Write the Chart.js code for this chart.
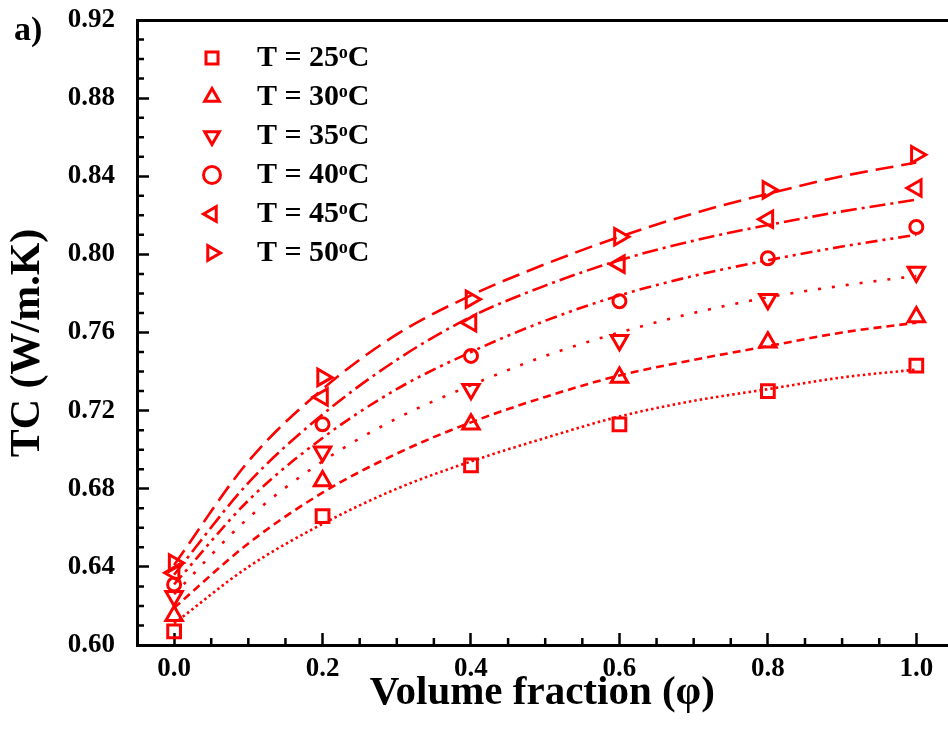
<!DOCTYPE html>
<html>
<head>
<meta charset="utf-8">
<script src="https://cdn.jsdelivr.net/npm/chart.js"></script>
<style>
  html, body { margin: 0; padding: 0; background: #fff; overflow: hidden; }
  #wrap { position: relative; width: 960px; height: 743px; }
  #panel {
    position: absolute; left: 14px; top: 10px;
    font: bold 34px "Liberation Serif", "Times New Roman", serif; color: #000;
  }
</style>
</head>
<body>
<div id="wrap">
  <canvas id="tcChart" width="960" height="743"></canvas>
  <div id="panel">a)</div>
</div>
<script>
const grafico = document.querySelector("#tcChart")

// temperatures (legend) and measured points
const temps = [25, 30, 35, 40, 45, 50]
const phi = [0, 0.2, 0.4, 0.6, 0.8, 1.0]
const tc25 = [0.607, 0.666, 0.692, 0.713, 0.730, 0.743]
const tc30 = [0.615, 0.684, 0.713, 0.737, 0.755, 0.768]
const tc35 = [0.625, 0.699, 0.731, 0.756, 0.777, 0.791]
const tc40 = [0.631, 0.713, 0.748, 0.776, 0.798, 0.814]
const tc45 = [0.637, 0.727, 0.765, 0.795, 0.818, 0.834]
const tc50 = [0.642, 0.737, 0.777, 0.809, 0.833, 0.851]

// fitted curves
const phiFit = [0, 0.1, 0.2, 0.3, 0.4, 0.5, 0.6, 0.7, 0.8, 0.9, 1.0]
const fit25 = [0.611, 0.640, 0.662, 0.680, 0.694, 0.706, 0.717, 0.725, 0.731, 0.737, 0.741]
const fit30 = [0.619, 0.652, 0.678, 0.698, 0.714, 0.727, 0.738, 0.746, 0.753, 0.760, 0.765]
const fit35 = [0.626, 0.665, 0.694, 0.716, 0.733, 0.748, 0.760, 0.770, 0.778, 0.784, 0.789]
const fit40 = [0.631, 0.674, 0.706, 0.731, 0.750, 0.766, 0.779, 0.789, 0.797, 0.804, 0.810]
const fit45 = [0.636, 0.683, 0.718, 0.746, 0.768, 0.784, 0.797, 0.807, 0.815, 0.822, 0.828]
const fit50 = [0.641, 0.694, 0.731, 0.759, 0.779, 0.795, 0.809, 0.821, 0.831, 0.840, 0.847]

const xTicks = [0, 0.2, 0.4, 0.6, 0.8, 1.0]
const yTicks = [0.60, 0.64, 0.68, 0.72, 0.76, 0.80, 0.84, 0.88, 0.92]

const vermelho = 'rgb(255, 0, 0)'
const fonte = '"Liberation Serif", "Times New Roman", serif'

const pares = (xs, ys) => xs.map((x, i) => ({ x: x, y: ys[i] }))

const marcadores = [
    { style: 'rect', rot: 0, r: 9 },
    { style: 'triangle', rot: 0, r: 9.5 },
    { style: 'triangle', rot: 180, r: 9.5 },
    { style: 'circle', rot: 0, r: 6.5 },
    { style: 'triangle', rot: 270, r: 9.5 },
    { style: 'triangle', rot: 90, r: 9.5 }
]
const tracos = [[2.5, 3], [8, 5], [3, 11], [12, 5, 3, 5, 3, 5], [16, 5, 3, 5], [18, 8]]
const medidas = [tc25, tc30, tc35, tc40, tc45, tc50]
const ajustes = [fit25, fit30, fit35, fit40, fit45, fit50]

const pontos = temps.map((t, i) => ({
    label: '  T = ' + t + 'ᵒC',
    data: pares(phi, medidas[i]),
    showLine: false,
    pointStyle: marcadores[i].style,
    pointRotation: marcadores[i].rot,
    pointRadius: marcadores[i].r,
    pointBorderWidth: 3,
    pointBorderColor: vermelho,
    pointBackgroundColor: 'rgba(0,0,0,0)',
    borderColor: vermelho,
    backgroundColor: 'rgba(0,0,0,0)'
}))

const linhas = temps.map((t, i) => ({
    label: '',
    data: pares(phiFit, ajustes[i]),
    showLine: true,
    pointRadius: 0,
    borderColor: vermelho,
    borderWidth: 2.6,
    borderDash: tracos[i],
    cubicInterpolationMode: 'monotone',
    fill: false
}))

// minor tick marks, drawn inward like the major ones
const minorTicks = {
    id: 'minorTicks',
    afterDraw(chart) {
        const { ctx, chartArea, scales } = chart
        ctx.save()
        ctx.strokeStyle = '#000'
        ctx.lineWidth = 2.5
        ctx.beginPath()
        for (let i = -1; i <= 21; i++) {
            if (i % 4 === 0) continue
            const px = scales.x.getPixelForValue(i * 0.05)
            if (px < chartArea.left + 2) continue
            ctx.moveTo(px, chartArea.bottom)
            ctx.lineTo(px, chartArea.bottom - 7)
        }
        for (let i = 1; i < 32; i++) {
            if (i % 4 === 0) continue
            const py = scales.y.getPixelForValue(0.60 + i * 0.01)
            ctx.moveTo(chartArea.left, py)
            ctx.lineTo(chartArea.left + 7, py)
        }
        ctx.stroke()
        ctx.restore()
    }
}

// put the legend box in the upper-left of the plot
const legendOffset = {
    id: 'legendOffset',
    afterLayout(chart) {
        const area = chart.chartArea
        const lg = chart.legend
        lg.left = area.left + 51
        lg.top = area.top + 14
        lg.right = area.right
        lg.bottom = area.bottom
    }
}

// keep tick labels from adding extra room around the plot
const semPadding = s => {
    s.paddingTop = 0
    s.paddingBottom = 0
    s.paddingLeft = 0
    s.paddingRight = 0
}

new Chart(grafico, {
    type: 'scatter',
    data: { datasets: pontos.concat(linhas) },
    plugins: [minorTicks, legendOffset],
    options: {
        responsive: false,
        animation: false,
        layout: { padding: 0 },
        plugins: {
            tooltip: { enabled: false },
            legend: {
                position: 'chartArea',
                align: 'start',
                fullSize: false,
                labels: {
                    usePointStyle: true,
                    boxHeight: 12,
                    padding: 9,
                    color: '#000',
                    font: { family: fonte, size: 30, weight: 'bold' },
                    filter: item => item.text !== ''
                }
            }
        },
        scales: {
            x: {
                type: 'linear',
                position: 'bottom',
                min: -0.05,
                max: 1.042,
                afterFit: s => { s.height = 98; semPadding(s) },
                afterBuildTicks: s => { s.ticks = xTicks.map(v => ({ value: v })) },
                ticks: {
                    padding: 20,
                    color: '#000',
                    font: { family: fonte, size: 27, weight: 'bold' },
                    callback: v => v.toFixed(1)
                },
                grid: { drawOnChartArea: false, tickLength: -12, tickColor: '#000', tickWidth: 2.5 },
                border: { color: '#000', width: 3 },
                title: {
                    display: true,
                    text: 'Volume fraction (φ)',
                    color: '#000',
                    font: { family: fonte, size: 41, weight: 'bold' },
                    padding: { top: 0, bottom: 25 }
                }
            },
            xTop: {
                type: 'linear',
                position: 'top',
                min: -0.05,
                max: 1.042,
                afterFit: s => { s.height = 20; semPadding(s) },
                ticks: { display: false },
                grid: { display: false, drawTicks: false },
                border: { color: '#000', width: 3 }
            },
            y: {
                type: 'linear',
                min: 0.60,
                max: 0.92,
                afterFit: s => { s.width = 137; semPadding(s) },
                afterBuildTicks: s => { s.ticks = yTicks.map(v => ({ value: v })) },
                ticks: {
                    padding: 34,
                    color: '#000',
                    font: { family: fonte, size: 27, weight: 'bold' },
                    callback: v => v.toFixed(2)
                },
                grid: { drawOnChartArea: false, tickLength: -12, tickColor: '#000', tickWidth: 2.5 },
                border: { color: '#000', width: 3 },
                title: {
                    display: true,
                    text: 'TC (W/m.K)\u2002',
                    color: '#000',
                    font: { family: fonte, size: 42, weight: 'bold' },
                    padding: { top: 3, bottom: 0 }
                }
            }
        }
    }
});
</script>
</body>
</html>
